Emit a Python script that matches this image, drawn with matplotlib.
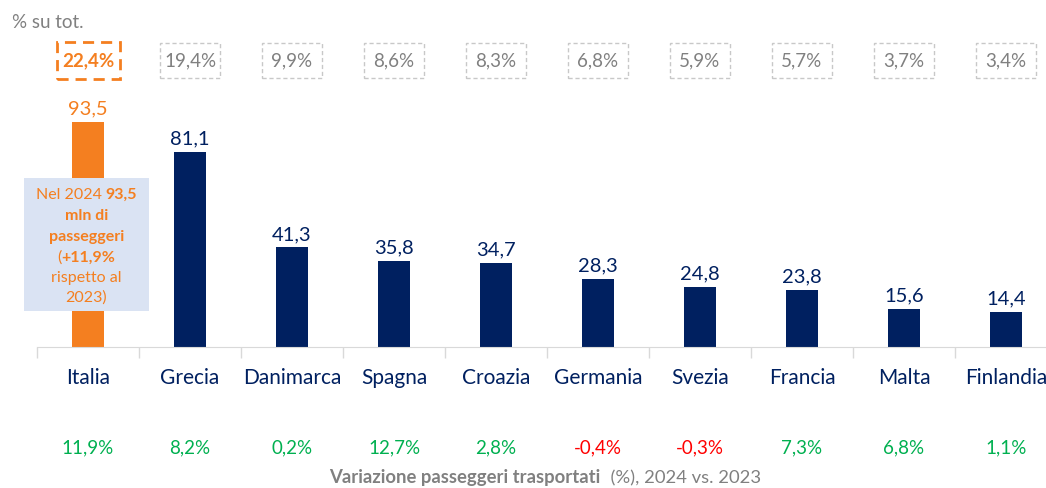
import matplotlib.pyplot as plt
from matplotlib.patches import Rectangle

plt.rcParams['font.family'] = ['Lato', 'DejaVu Sans']

paesi = ['Italia', 'Grecia', 'Danimarca', 'Spagna', 'Croazia',
         'Germania', 'Svezia', 'Francia', 'Malta', 'Finlandia']
passeggeri = [93.5, 81.1, 41.3, 35.8, 34.7, 28.3, 24.8, 23.8, 15.6, 14.4]
quota = [22.4, 19.4, 9.9, 8.6, 8.3, 6.8, 5.9, 5.7, 3.7, 3.4]
variazione = [11.9, 8.2, 0.2, 12.7, 2.8, -0.4, -0.3, 7.3, 6.8, 1.1]

NAVY = '#002060'
ORANGE = '#F47F20'
GREY = '#808080'
GREEN = '#00B050'
RED = '#FF0000'


def fmt(v, dec=1):
    return f'{v:.{dec}f}'.replace('.', ',')


W, H = 1046, 489
fig = plt.figure(figsize=(W / 100, H / 100), dpi=100)
base = 348
scale = 2.41
ax = fig.add_axes([37 / W, (H - base) / H, 1020 / W, base / H])
ax.set_xlim(-0.5, 9.5)
ax.set_ylim(0, base / scale)
ax.patch.set_alpha(0)
for s in ['top', 'right', 'left']:
    ax.spines[s].set_visible(False)
ax.spines['bottom'].set_color('#d9d9d9')
ax.spines['bottom'].set_clip_on(False)
ax.set_yticks([])
ax.set_xticks([i - 0.5 for i in range(10)])
ax.set_xticklabels([])
ax.tick_params(axis='x', length=8, color='#d9d9d9', width=1)

x = list(range(len(paesi)))
colori = [ORANGE] + [NAVY] * (len(paesi) - 1)
bars = ax.bar(x, passeggeri, width=0.31, color=colori, zorder=2)

for i, v in enumerate(passeggeri):
    ax.annotate(fmt(v), (i, v), xytext=(0, 4), textcoords='offset points',
                ha='center', va='bottom', fontsize=14.5, color=colori[i])

# quota sul totale, riquadri tratteggiati
yq = (base - 61) / scale
for i, q in enumerate(quota):
    if i == 0:
        w, h = 63 / 102, 37 / scale
        ax.add_patch(Rectangle((i - w / 2, yq - h / 2), w, h, fill=False,
                               ec=ORANGE, lw=2, ls=(0, (4, 2.5)), clip_on=False))
        ax.text(i, yq, fmt(q) + '%', ha='center', va='center', fontsize=13.5,
                color=ORANGE, fontweight='bold')
    else:
        w, h = 60 / 102, 35 / scale
        ax.add_patch(Rectangle((i - w / 2, yq - h / 2), w, h, fill=False,
                               ec='#c8c8c8', lw=1, ls=(0, (3, 2)), clip_on=False))
        ax.text(i, yq, fmt(q) + '%', ha='center', va='center', fontsize=13.5,
                color=GREY)

fig.text(12 / W, 1 - 22 / H, '% su tot.', fontsize=13.5, color=GREY,
         ha='left', va='center')

# etichette paesi e variazioni
for i, p in enumerate(paesi):
    ax.text(i, -(378 - base) / scale, p, ha='center', va='center',
            fontsize=15, color=NAVY)
    c = GREEN if variazione[i] >= 0 else RED
    ax.text(i, -(448 - base) / scale, fmt(variazione[i]) + '%', ha='center',
            va='center', fontsize=13.5, color=c)

# box annotazione Italia
bx0 = (24 - 37) / 102 - 0.5
bx1 = (149 - 37) / 102 - 0.5
by0 = (base - 312) / scale
by1 = (base - 179) / scale
ax.add_patch(Rectangle((bx0, by0), bx1 - bx0, by1 - by0, fc='#DAE3F3',
                       ec='none', zorder=3, clip_on=False))

righe = [
    [('Nel 2024 ', 'normal'), ('93,5', 'bold')],
    [('mln di', 'bold')],
    [('passeggeri', 'bold')],
    [('(', 'normal'), ('+11,9%', 'bold')],
    [('rispetto al', 'normal')],
    [('2023)', 'normal')],
]
righe_y = [195, 216, 237, 258, 278, 298]

titolo = [('Variazione passeggeri trasportati', 'bold'),
          ('  (%), 2024 vs. 2023', 'normal')]

fig.canvas.draw()
r = fig.canvas.get_renderer()


def riga_centrata(segs, cx_px, cy_px, color, size, zorder=4):
    txts = []
    for s, wgt in segs:
        t = fig.text(0, 0, s, fontsize=size, fontweight=wgt, color=color,
                     ha='left', va='center', zorder=zorder)
        txts.append(t)
    widths = [t.get_window_extent(r).width for t in txts]
    x0 = cx_px - sum(widths) / 2
    for t, wd in zip(txts, widths):
        t.set_position((x0 / W, 1 - cy_px / H))
        x0 += wd


cx = (24 + 149) / 2
for segs, yy in zip(righe, righe_y):
    riga_centrata(segs, cx, yy, ORANGE, 11.5)

riga_centrata(titolo, 545, 478, GREY, 13.3)

fig.savefig('out.png', dpi=100)
